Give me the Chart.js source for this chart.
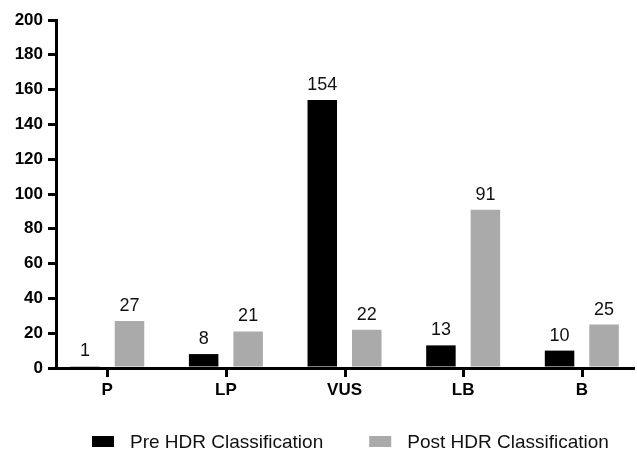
<!DOCTYPE html>
<html>
<head>
<meta charset="utf-8">
<script src="https://cdn.jsdelivr.net/npm/chart.js@4/dist/chart.umd.min.js"></script>
<style>
  html, body { margin: 0; padding: 0; background: #fff; }
  #c { display: block; }
</style>
</head>
<body>
<canvas id="c" width="637" height="451"></canvas>
<script>
// Variant counts by classification, before and after HDR review
const categories = ['P', 'LP', 'VUS', 'LB', 'B'];
const preHDR = [1, 8, 154, 13, 10];
const postHDR = [27, 21, 22, 91, 25];
const seriesNames = ['Pre HDR Classification', 'Post HDR Classification'];
const seriesColors = ['#000000', '#aaaaaa'];
const yTickStep = 20;
const yMax = 200;

const FONT = "'Liberation Sans', Arial, Helvetica, sans-serif";

const toPoints = vals => vals.map((v, i) => ({ x: i, y: v }));

// Numbers printed above each bar, taken from the bar's own data value
const valueLabels = {
  id: 'valueLabels',
  afterDatasetsDraw(chart) {
    const ctx = chart.ctx;
    ctx.save();
    ctx.font = `18px ${FONT}`;
    ctx.fillStyle = '#111';
    ctx.textAlign = 'center';
    ctx.textBaseline = 'alphabetic';
    chart.data.datasets.forEach((ds, di) => {
      chart.getDatasetMeta(di).data.forEach((bar, i) => {
        ctx.fillText(String(ds.data[i].y), bar.x, bar.y - 10);
      });
    });
    ctx.restore();
  }
};

// Downward tick marks under each category on the x axis
const categoryTicks = {
  id: 'categoryTicks',
  afterDraw(chart) {
    const xs = chart.scales.x;
    const base = chart.chartArea.bottom;
    const ctx = chart.ctx;
    ctx.save();
    ctx.fillStyle = '#000000';
    categories.forEach((_, i) => {
      const px = Math.round(xs.getPixelForValue(i));
      ctx.fillRect(px - 1, base, 3, 9);
    });
    ctx.restore();
  }
};

// Legend row under the axis
const bottomLegend = {
  id: 'bottomLegend',
  afterDraw(chart) {
    const ctx = chart.ctx;
    const area = chart.chartArea;
    const boxW = 22, boxH = 11, textGap = 16, itemGap = 46;
    const y = 441.5;
    ctx.save();
    ctx.font = `19px ${FONT}`;
    ctx.textBaseline = 'middle';
    ctx.textAlign = 'left';
    let x = area.left + 36;
    chart.data.datasets.forEach(ds => {
      const w = ctx.measureText(ds.label).width;
      ctx.fillStyle = ds.backgroundColor;
      ctx.fillRect(x, y - boxH / 2, boxW, boxH);
      ctx.fillStyle = '#111';
      ctx.fillText(ds.label, x + boxW + textGap, y + 1);
      x += boxW + textGap + w + itemGap;
    });
    ctx.restore();
  }
};

new Chart(document.getElementById('c'), {
  type: 'bar',
  data: {
    datasets: [
      { label: seriesNames[0], data: toPoints(preHDR), backgroundColor: seriesColors[0], borderWidth: 0 },
      { label: seriesNames[1], data: toPoints(postHDR), backgroundColor: seriesColors[1], borderWidth: 0 }
    ]
  },
  options: {
    responsive: false,
    animation: false,
    devicePixelRatio: 1,
    categoryPercentage: 0.75,
    barPercentage: 0.663,
    layout: { padding: { top: 20, right: 3, left: 0, bottom: 0 } },
    plugins: {
      legend: { display: false },
      tooltip: { enabled: false },
      title: { display: false }
    },
    scales: {
      x: {
        type: 'linear',
        min: -0.432,
        max: 4.44,
        offset: false,
        afterBuildTicks: s => { s.ticks = categories.map((_, i) => ({ value: i })); },
        ticks: {
          callback: v => categories[v] ?? '',
          font: { family: FONT, size: 17, weight: 'bold' },
          color: '#000',
          padding: 12,
          autoSkip: false,
          maxRotation: 0
        },
        grid: { display: false, drawTicks: false, tickLength: 0 },
        border: { display: true, width: 3, color: '#000' },
        afterFit: s => { s.height = 83; }
      },
      y: {
        min: 0,
        max: yMax,
        ticks: {
          stepSize: yTickStep,
          font: { family: FONT, size: 17, weight: 'bold' },
          color: '#000',
          padding: 5
        },
        grid: { drawOnChartArea: false, drawTicks: true, tickLength: 8, lineWidth: 3, color: '#000' },
        border: { display: true, width: 3, color: '#000' },
        afterFit: s => { s.width = 56; }
      }
    }
  },
  plugins: [valueLabels, categoryTicks, bottomLegend]
});
</script>
</body>
</html>
